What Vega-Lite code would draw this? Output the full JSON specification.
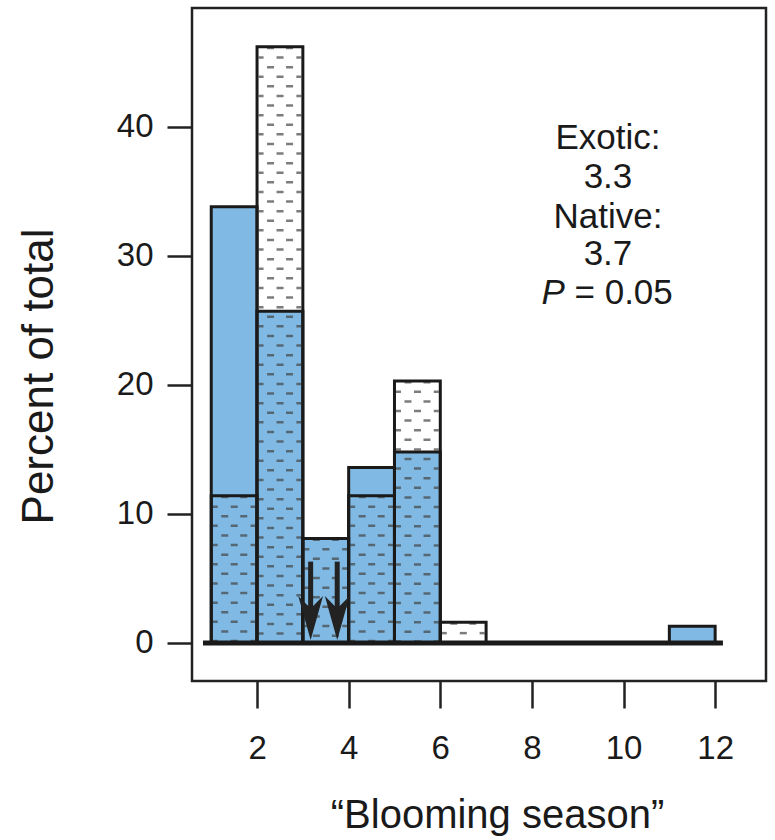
{
  "$schema": "https://vega.github.io/schema/vega-lite/v6.json",
  "width": 574,
  "height": 673,
  "autosize": {"type": "none"},
  "padding": {"left": 192, "top": 8, "right": 9, "bottom": 159},
  "background": "white",
  "config": {
    "view": {"stroke": "#222", "strokeWidth": 2.5},
    "font": "Liberation Sans",
    "axis": {"domain": false, "grid": false, "tickColor": "#222", "tickWidth": 2.5, "labelColor": "#1a1a1a", "titleColor": "#1a1a1a", "labelFont": "Liberation Sans", "titleFont": "Liberation Sans", "titleFontWeight": "normal"}
  },
  "datasets": {
    "bins": [
      {"group": "Exotic", "start": 1, "end": 2, "pct": 33.8},
      {"group": "Exotic", "start": 2, "end": 3, "pct": 25.7},
      {"group": "Exotic", "start": 3, "end": 4, "pct": 8.1},
      {"group": "Exotic", "start": 4, "end": 5, "pct": 13.6},
      {"group": "Exotic", "start": 5, "end": 6, "pct": 14.8},
      {"group": "Exotic", "start": 11, "end": 12, "pct": 1.3},
      {"group": "Native", "start": 1, "end": 2, "pct": 11.4},
      {"group": "Native", "start": 2, "end": 3, "pct": 46.2},
      {"group": "Native", "start": 3, "end": 4, "pct": 8.1},
      {"group": "Native", "start": 4, "end": 5, "pct": 11.4},
      {"group": "Native", "start": 5, "end": 6, "pct": 20.3},
      {"group": "Native", "start": 6, "end": 7, "pct": 1.6}
    ],
    "means": [
      {"group": "Exotic", "mean": 3.17},
      {"group": "Native", "mean": 3.75}
    ],
    "notes": [
      {"label": "Exotic:", "x": 9.66, "y": 39.1},
      {"label": "3.3", "x": 9.66, "y": 36.1},
      {"label": "Native:", "x": 9.66, "y": 33.0},
      {"label": "3.7", "x": 9.66, "y": 30.1}
    ],
    "pnote": [
      {"p": "P", "rest": "= 0.05", "px": 8.72, "rx": 8.93, "y": 27.1}
    ],
    "baseline": [
      {"from": 0.82, "to": 12.17, "level": 0}
    ]
  },
  "layer": [
    {
      "data": {"name": "bins"},
      "transform": [{"filter": "datum.group === 'Exotic'"}],
      "mark": {"type": "rect", "fill": "#80bae4", "stroke": "#1a1a1a", "strokeWidth": 3},
      "encoding": {
        "x": {"field": "start", "type": "quantitative", "scale": {"domain": [0.58, 13.11], "nice": false, "zero": false},
          "axis": {"values": [2, 4, 6, 8, 10, 12], "tickSize": 27, "labelFontSize": 33, "labelPadding": 24, "title": "“Blooming season”", "titleFontSize": 40, "titlePadding": 30, "titleX": 305}},
        "x2": {"field": "end"},
        "y": {"field": "pct", "type": "quantitative", "scale": {"domain": [-2.95, 49.2], "nice": false, "zero": false},
          "axis": {"values": [0, 10, 20, 30, 40], "tickSize": 25, "labelFontSize": 33, "labelPadding": 14, "title": "Percent of total", "titleFontSize": 44, "titlePadding": 55, "titleY": 368}},
        "y2": {"datum": 0}
      }
    },
    {
      "data": {"name": "bins"},
      "transform": [{"filter": "datum.group === 'Native'"}],
      "mark": {"type": "rule", "xOffset": 4, "strokeWidth": 5, "strokeDash": [2.5, 16.7], "strokeDashOffset": 9.6, "strokeCap": "butt", "stroke": "#444", "opacity": 0.7},
      "encoding": {"x": {"field": "start", "type": "quantitative"}, "y": {"field": "pct", "type": "quantitative"}, "y2": {"datum": 0}}
    },
    {
      "data": {"name": "bins"},
      "transform": [{"filter": "datum.group === 'Native'"}],
      "mark": {"type": "rule", "xOffset": 13.5, "strokeWidth": 7, "strokeDash": [2.5, 16.7], "strokeDashOffset": 0, "strokeCap": "butt", "stroke": "#444", "opacity": 0.7},
      "encoding": {"x": {"field": "start", "type": "quantitative"}, "y": {"field": "pct", "type": "quantitative"}, "y2": {"datum": 0}}
    },
    {
      "data": {"name": "bins"},
      "transform": [{"filter": "datum.group === 'Native'"}],
      "mark": {"type": "rule", "xOffset": 23, "strokeWidth": 7, "strokeDash": [2.5, 16.7], "strokeDashOffset": 9.6, "strokeCap": "butt", "stroke": "#444", "opacity": 0.7},
      "encoding": {"x": {"field": "start", "type": "quantitative"}, "y": {"field": "pct", "type": "quantitative"}, "y2": {"datum": 0}}
    },
    {
      "data": {"name": "bins"},
      "transform": [{"filter": "datum.group === 'Native'"}],
      "mark": {"type": "rule", "xOffset": 32.5, "strokeWidth": 7, "strokeDash": [2.5, 16.7], "strokeDashOffset": 0, "strokeCap": "butt", "stroke": "#444", "opacity": 0.7},
      "encoding": {"x": {"field": "start", "type": "quantitative"}, "y": {"field": "pct", "type": "quantitative"}, "y2": {"datum": 0}}
    },
    {
      "data": {"name": "bins"},
      "transform": [{"filter": "datum.group === 'Native'"}],
      "mark": {"type": "rule", "xOffset": 41.8, "strokeWidth": 5, "strokeDash": [2.5, 16.7], "strokeDashOffset": 9.6, "strokeCap": "butt", "stroke": "#444", "opacity": 0.7},
      "encoding": {"x": {"field": "start", "type": "quantitative"}, "y": {"field": "pct", "type": "quantitative"}, "y2": {"datum": 0}}
    },
    {
      "data": {"name": "bins"},
      "transform": [{"filter": "datum.group === 'Native'"}],
      "mark": {"type": "rect", "fill": "transparent", "stroke": "#1a1a1a", "strokeWidth": 3},
      "encoding": {"x": {"field": "start", "type": "quantitative"}, "x2": {"field": "end"}, "y": {"field": "pct", "type": "quantitative"}, "y2": {"datum": 0}}
    },
    {
      "data": {"name": "baseline"},
      "mark": {"type": "rule", "stroke": "#1a1a1a", "strokeWidth": 5, "strokeCap": "butt"},
      "encoding": {"x": {"field": "from", "type": "quantitative"}, "x2": {"field": "to"}, "y": {"field": "level", "type": "quantitative"}}
    },
    {
      "data": {"name": "means"},
      "mark": {"type": "rule", "stroke": "#222", "strokeWidth": 5, "strokeCap": "butt"},
      "encoding": {"x": {"field": "mean", "type": "quantitative"}, "y": {"datum": 6.3}, "y2": {"datum": 2.6}}
    },
    {
      "data": {"name": "means"},
      "mark": {"type": "point", "filled": true, "fill": "#222", "stroke": null, "opacity": 1, "size": 2025, "shape": "M0,1 L-0.55,-0.95 L0,-0.4 L0.55,-0.95 Z"},
      "encoding": {"x": {"field": "mean", "type": "quantitative"}, "y": {"datum": 1.98}}
    },
    {
      "data": {"name": "notes"},
      "mark": {"type": "text", "fontSize": 35, "font": "Liberation Sans", "fill": "#1a1a1a", "align": "center", "baseline": "middle"},
      "encoding": {"x": {"field": "x", "type": "quantitative"}, "y": {"field": "y", "type": "quantitative"}, "text": {"field": "label"}}
    },
    {
      "data": {"name": "pnote"},
      "mark": {"type": "text", "fontSize": 35, "font": "Liberation Sans", "fontStyle": "italic", "fill": "#1a1a1a", "align": "right", "baseline": "middle"},
      "encoding": {"x": {"field": "px", "type": "quantitative"}, "y": {"field": "y", "type": "quantitative"}, "text": {"field": "p"}}
    },
    {
      "data": {"name": "pnote"},
      "mark": {"type": "text", "fontSize": 35, "font": "Liberation Sans", "fill": "#1a1a1a", "align": "left", "baseline": "middle"},
      "encoding": {"x": {"field": "rx", "type": "quantitative"}, "y": {"field": "y", "type": "quantitative"}, "text": {"field": "rest"}}
    }
  ]
}
